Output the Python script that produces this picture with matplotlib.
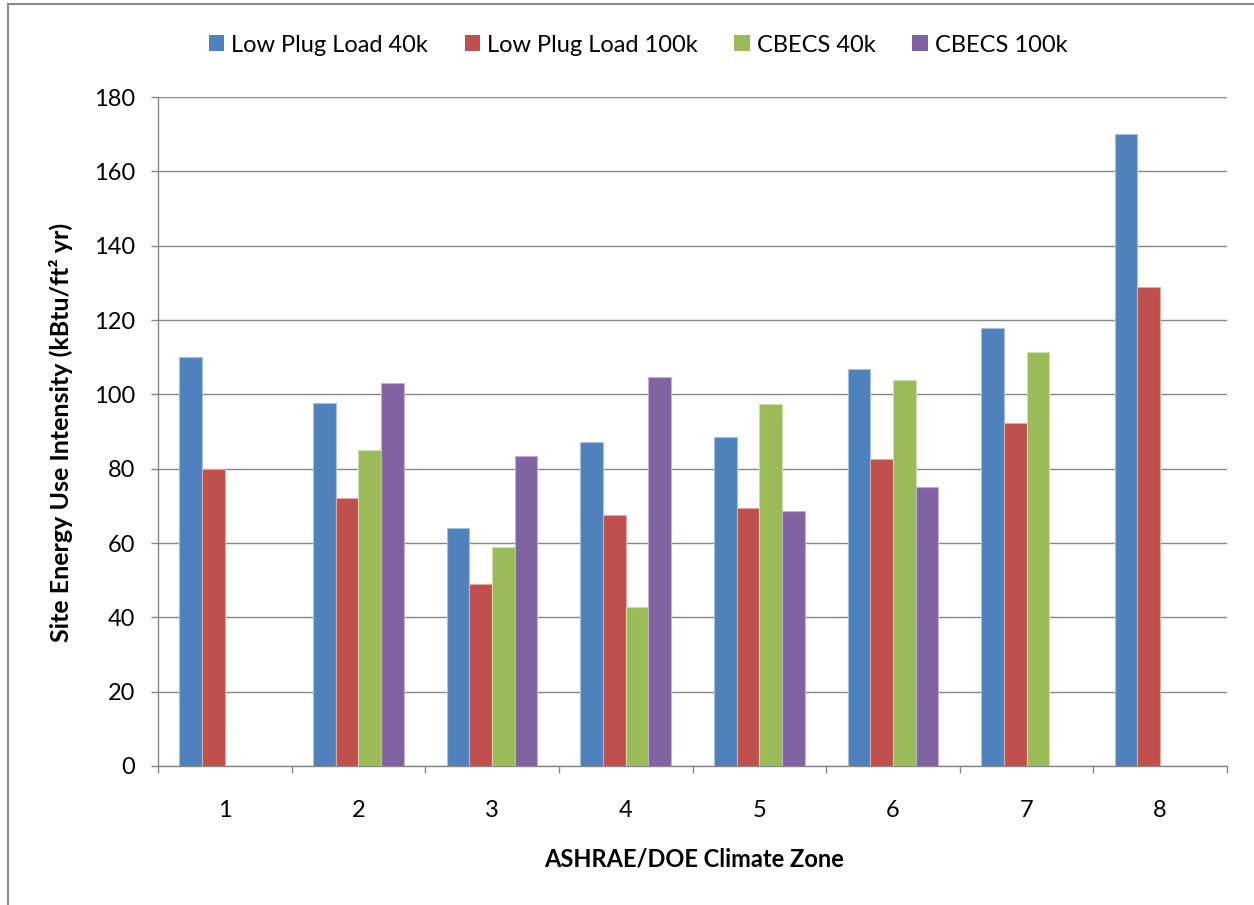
import numpy as np
import matplotlib
matplotlib.use('Agg')
import matplotlib.pyplot as plt
from matplotlib.patches import Patch, Rectangle

plt.rcParams['font.family'] = ['Lato', 'DejaVu Sans']

zones = ['1', '2', '3', '4', '5', '6', '7', '8']
series = ['Low Plug Load 40k', 'Low Plug Load 100k', 'CBECS 40k', 'CBECS 100k']
lpl_40k = [110.0, 97.8, 64.0, 87.1, 88.4, 106.7, 117.9, 170.0]
lpl_100k = [80.0, 72.2, 49.1, 67.5, 69.4, 82.7, 92.2, 128.8]
cbecs_40k = [np.nan, 85.0, 58.8, 42.7, 97.3, 103.9, 111.4, np.nan]
cbecs_100k = [np.nan, 103.0, 83.4, 104.7, 68.5, 75.1, np.nan, np.nan]

colors = ['#4F81BD', '#C0504D', '#9BBB59', '#8064A2']
edges = ['#A7C0DE', '#E0A8A6', '#CDDDAC', '#BFB1D0']
grid_c = '#878787'

W, H = 1254, 905
fig = plt.figure(figsize=(W/100, H/100), dpi=100)
ax = fig.add_axes([158/W, 1 - 766/H, (1227-158)/W, (766-97)/H])

x = np.arange(1, len(zones) + 1)
w = 0.17
vals = [lpl_40k, lpl_100k, cbecs_40k, cbecs_100k]
for i, v in enumerate(vals):
    ax.bar(x + (i - 1.5) * w, v, w, color=colors[i], edgecolor=edges[i],
           linewidth=0.8, zorder=3)

ax.set_xlim(0.5, 8.5)
ax.set_ylim(0, 180)
ax.set_yticks(np.arange(0, 181, 20))
ax.yaxis.grid(True, color=grid_c, linewidth=1.0, zorder=0)
ax.set_axisbelow(True)

ax.set_xticks(x)
ax.set_xticklabels(zones)
ax.set_xticks(np.arange(0.5, 8.6, 1), minor=True)
ax.tick_params(axis='x', which='major', length=0, pad=24.5, labelsize=17)
ax.tick_params(axis='x', which='minor', length=5, width=1.0, color=grid_c, direction='out')
ax.tick_params(axis='y', length=5, width=1.0, color=grid_c, pad=11.5, labelsize=17)

for s in ['top', 'right']:
    ax.spines[s].set_visible(False)
for s in ['left', 'bottom']:
    ax.spines[s].set_color(grid_c)
    ax.spines[s].set_linewidth(1.0)

fig.text(694/W, 1 - 859/H, 'ASHRAE/DOE Climate Zone', fontsize=17, fontweight='bold',
         ha='center', va='center')
fig.text(61/W, 1 - 432/H, 'Site Energy Use Intensity (kBtu/ft² yr)', fontsize=18,
         fontweight='bold', rotation=90, ha='center', va='center')

handles = [Patch(facecolor=c, edgecolor='none') for c in colors]
fig.legend(handles, series, loc='center', bbox_to_anchor=(638/W, 1 - 45/H),
           ncol=4, frameon=False, fontsize=17, handlelength=0.65, handleheight=0.65,
           handletextpad=0.3, columnspacing=1.55)

# outer chart frame
fig.patches.append(Rectangle((8/W, -0.05), 1.1, 1 - 4/H + 0.05, transform=fig.transFigure,
                             fill=False, edgecolor='#8C8C8C', linewidth=1.5))

fig.savefig('out.png', dpi=100)
